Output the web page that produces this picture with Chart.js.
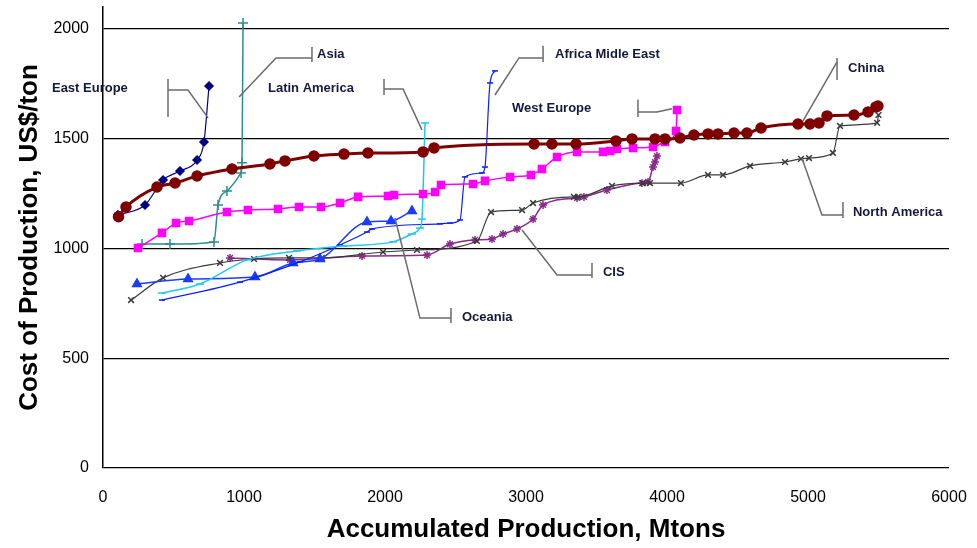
<!DOCTYPE html>
<html>
<head>
<meta charset="utf-8">
<script src="https://cdn.jsdelivr.net/npm/chart.js@4.4.1/dist/chart.umd.min.js"></script>
<style>
  html, body { margin: 0; padding: 0; background: #fff; }
  canvas { display: block; }
</style>
</head>
<body>
<canvas id="costChart" width="977" height="548"></canvas>
<script>
// accumulated production (Mtons) and cost (US$/ton) per region
const chinaX = [110, 163, 383, 511, 667, 915, 1184, 1291, 1496, 1709, 1879, 2270, 2348, 3057, 3184, 3355, 3638, 3752, 3915, 3986, 4092, 4191, 4291, 4362, 4475, 4567, 4667, 4929, 5014, 5078, 5135, 5326, 5426, 5482, 5496];
const chinaY = [1145, 1189, 1280, 1298, 1330, 1362, 1385, 1399, 1421, 1430, 1435, 1440, 1458, 1476, 1476, 1476, 1490, 1499, 1499, 1499, 1503, 1517, 1522, 1522, 1526, 1526, 1549, 1567, 1567, 1572, 1604, 1608, 1622, 1645, 1649];

const eastEuropeX = [106, 298, 426, 546, 667, 716, 752];
const eastEuropeY = [1153, 1198, 1312, 1353, 1403, 1485, 1740];

const asiaX = [277, 475, 787, 816, 879, 979, 986, 993];
const asiaY = [1020, 1020, 1030, 1198, 1262, 1344, 1390, 2027];

const latinAmericaX = [418, 688, 1021, 1376, 1702, 2057, 2191, 2248, 2262, 2284];
const latinAmericaY = [797, 838, 948, 989, 1011, 1030, 1066, 1093, 1134, 1572];

const africaX = [418, 972, 1397, 1681, 1872, 1908, 2390, 2461, 2532, 2567, 2688, 2709, 2745, 2780];
const africaY = [765, 847, 939, 1016, 1075, 1089, 1112, 1116, 1130, 1326, 1344, 1371, 1754, 1809];

const oceaniaX = [241, 603, 1078, 1348, 1539, 1872, 2043, 2191];
const oceaniaY = [838, 861, 870, 934, 952, 1121, 1125, 1171];

const westEuropeX = [248, 418, 518, 610, 879, 1028, 1241, 1390, 1546, 1681, 1809, 2021, 2064, 2270, 2355, 2397, 2624, 2709, 2887, 3035, 3113, 3220, 3362, 3546, 3596, 3645, 3759, 3901, 3986, 4064, 4071];
const westEuropeY = [1002, 1071, 1116, 1125, 1166, 1175, 1180, 1189, 1189, 1207, 1235, 1239, 1244, 1248, 1257, 1289, 1294, 1308, 1326, 1335, 1362, 1417, 1440, 1440, 1444, 1453, 1458, 1462, 1485, 1535, 1631];

const northAmericaX = [199, 426, 830, 1071, 1319, 1553, 1986, 2227, 2652, 2752, 2972, 3050, 3340, 3369, 3610, 3830, 3879, 4099, 4291, 4397, 4589, 4837, 4950, 5007, 5177, 5227, 5490, 5500];
const northAmericaY = [765, 866, 934, 952, 957, 957, 984, 993, 1034, 1166, 1175, 1207, 1235, 1235, 1285, 1298, 1298, 1298, 1335, 1335, 1376, 1394, 1408, 1412, 1435, 1558, 1572, 1608];

const cisX = [901, 1326, 1837, 2298, 2461, 2638, 2759, 2837, 2936, 3050, 3121, 3362, 3411, 3574, 3823, 3865, 3901, 3915, 3929];
const cisY = [957, 948, 966, 970, 1020, 1039, 1043, 1066, 1089, 1134, 1198, 1230, 1235, 1266, 1298, 1303, 1371, 1394, 1421];

const xTicks = [0, 1000, 2000, 3000, 4000, 5000, 6000];
const yTicks = [0, 500, 1000, 1500, 2000];

// region labels with their leader lines, in data units
const labels = [
  { text: 'East Europe', x: -362, y: 1731, bar: [461, 1772, 1599], path: [[461, 1722], [603, 1722], [745, 1595]] },
  { text: 'Asia', x: 1518, y: 1882, bar: [1482, 1918, 1850], path: [[1482, 1868], [1227, 1868], [965, 1690]] },
  { text: 'Latin America', x: 1170, y: 1731, bar: [1993, 1772, 1699], path: [[1993, 1727], [2128, 1727], [2262, 1540]] },
  { text: 'Africa Midle East', x: 3206, y: 1882, bar: [3121, 1923, 1850], path: [[3121, 1868], [2950, 1868], [2780, 1699]] },
  { text: 'West Europe', x: 2901, y: 1636, bar: [3794, 1677, 1599], path: [[3794, 1622], [3929, 1622], [4035, 1636]] },
  { text: 'China', x: 5284, y: 1822, bar: [5206, 1868, 1768], path: [[5206, 1850], [4965, 1581]] },
  { text: 'North America', x: 5319, y: 1166, bar: [5248, 1212, 1139], path: [[5248, 1153], [5099, 1153], [4957, 1412]] },
  { text: 'CIS', x: 3546, y: 893, bar: [3468, 934, 866], path: [[3468, 879], [3220, 879], [2972, 1084]] },
  { text: 'Oceania', x: 2546, y: 688, bar: [2468, 729, 661], path: [[2468, 683], [2248, 683], [2071, 1139]] }
];

const pts = (xs, ys) => xs.map((x, i) => ({ x: x, y: ys[i] }));

const series = (label, xs, ys, color, style, radius, width) => ({
  label: label,
  data: pts(xs, ys),
  borderColor: color,
  backgroundColor: color,
  pointBackgroundColor: color,
  pointBorderColor: color,
  pointStyle: style,
  pointRadius: radius,
  pointBorderWidth: 1.5,
  borderWidth: width,
  tension: 0.3,
  cubicInterpolationMode: 'monotone'
});

const labelPlugin = {
  id: 'regionLabels',
  afterDatasetsDraw(chart) {
    const ctx = chart.ctx;
    const sx = chart.scales.x, sy = chart.scales.y;
    ctx.save();
    ctx.strokeStyle = '#6b6b6b';
    ctx.lineWidth = 1.5;
    labels.forEach(l => {
      ctx.beginPath();
      ctx.moveTo(sx.getPixelForValue(l.bar[0]), sy.getPixelForValue(l.bar[1]));
      ctx.lineTo(sx.getPixelForValue(l.bar[0]), sy.getPixelForValue(l.bar[2]));
      ctx.stroke();
      ctx.beginPath();
      l.path.forEach((p, i) => {
        const px = sx.getPixelForValue(p[0]), py = sy.getPixelForValue(p[1]);
        if (i === 0) ctx.moveTo(px, py); else ctx.lineTo(px, py);
      });
      ctx.stroke();
    });
    ctx.fillStyle = '#14193c';
    ctx.font = 'bold 13px "Liberation Sans", Arial, sans-serif';
    ctx.textBaseline = 'middle';
    ctx.textAlign = 'left';
    labels.forEach(l => {
      ctx.fillText(l.text, sx.getPixelForValue(l.x), sy.getPixelForValue(l.y));
    });
    ctx.restore();
  }
};

const font = '"Liberation Sans", Arial, sans-serif';

new Chart(document.getElementById('costChart').getContext('2d'), {
  type: 'line',
  data: {
    datasets: [
      series('China', chinaX, chinaY, '#7f0000', 'circle', 5, 3),
      series('East Europe', eastEuropeX, eastEuropeY, '#000080', 'rectRot', 4, 1.2),
      series('West Europe', westEuropeX, westEuropeY, '#ff00ff', 'rect', 5, 1.5),
      series('Asia', asiaX, asiaY, '#2a8f8f', 'cross', 5, 1.5),
      series('Latin America', latinAmericaX, latinAmericaY, '#1ec8f0', 'line', 4, 1.5),
      series('Africa Midle East', africaX, africaY, '#0a1eff', 'line', 3, 1.2),
      series('Oceania', oceaniaX, oceaniaY, '#1a3cff', 'triangle', 5, 1.5),
      series('North America', northAmericaX, northAmericaY, '#3a3a3a', 'crossRot', 4, 1.2),
      series('CIS', cisX, cisY, '#8a2a8a', 'star', 4, 1.5)
    ]
  },
  options: {
    responsive: false,
    animation: false,
    layout: { padding: { top: 7, right: 28, left: 0, bottom: 0 } },
    plugins: { legend: { display: false }, tooltip: { enabled: false } },
    scales: {
      x: {
        type: 'linear',
        min: 0,
        max: 6000,
        afterBuildTicks: s => { s.ticks = xTicks.map(v => ({ value: v })); },
        afterFit: s => { s.height = 80; s.paddingLeft = 0; s.paddingRight = 0; },
        grid: { display: false },
        border: { display: false },
        ticks: { color: '#000', font: { family: font, size: 16 }, padding: 12, maxRotation: 0, callback: v => String(v) },
        title: { display: true, text: 'Accumulated Production, Mtons', color: '#000', font: { family: font, size: 26, weight: 'bold' }, padding: { top: 0, bottom: 3 } }
      },
      y: {
        type: 'linear',
        min: 0,
        max: 2100,
        afterBuildTicks: s => { s.ticks = yTicks.map(v => ({ value: v })); },
        afterFit: s => { s.width = 103; s.paddingTop = 0; s.paddingBottom = 0; },
        grid: { color: '#000', lineWidth: 1.2, drawTicks: false },
        border: { display: true, color: '#000', width: 1.5 },
        ticks: { color: '#000', font: { family: font, size: 16 }, padding: 14, callback: v => String(v) },
        title: { display: true, text: 'Cost of Production, US$/ton', color: '#000', font: { family: font, size: 26, weight: 'bold' }, padding: { top: 14, bottom: 0 } }
      }
    }
  },
  plugins: [labelPlugin]
});
</script>
</body>
</html>
